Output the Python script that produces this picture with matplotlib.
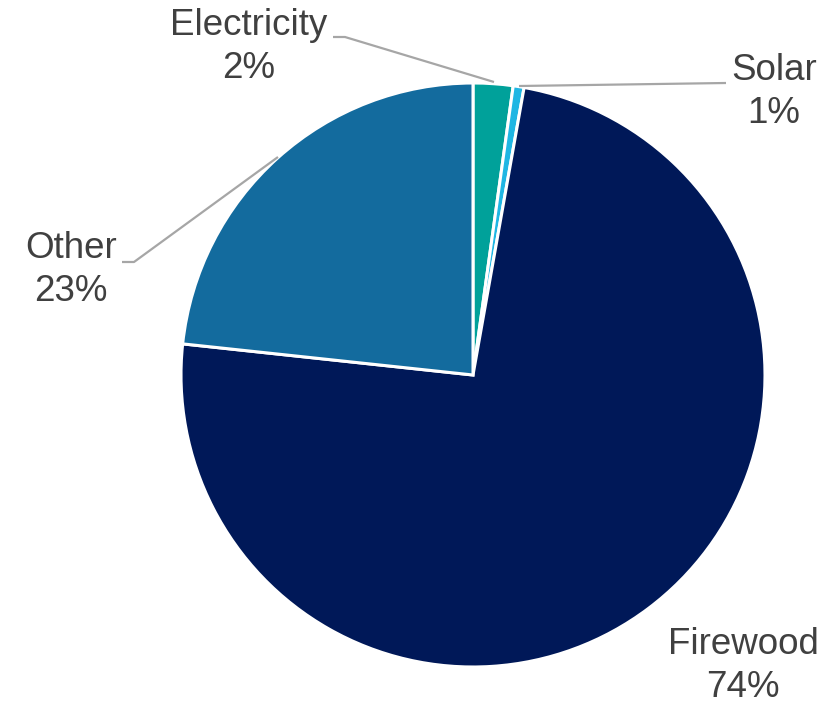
import matplotlib
matplotlib.use("Agg")
import matplotlib.pyplot as plt

categories = ["Electricity", "Solar", "Firewood", "Other"]
values = [2.2, 0.6, 73.9, 23.3]
pct_labels = ["2%", "1%", "74%", "23%"]
colors = ["#00A19A", "#1FB6E3", "#001858", "#136B9E"]

W, H = 838, 704
fig = plt.figure(figsize=(W / 100, H / 100), dpi=100)
ax = fig.add_axes([0, 0, 1, 1])

cx, cy, r = 473, H - 375, 292
ax.pie(values, colors=colors, startangle=90, counterclock=False,
       center=(cx, cy), radius=r,
       wedgeprops=dict(edgecolor="white", linewidth=2.2))
ax.set_xlim(0, W)
ax.set_ylim(0, H)
ax.set_aspect("equal")
ax.axis("off")

txt = dict(fontfamily="Liberation Sans", fontsize=26.5, color="#404040",
           ha="center", va="center", linespacing=1.3)
lab_pos = {
    "Electricity": (249, 47),
    "Solar": (774, 92),
    "Firewood": (743, 666),
    "Other": (71, 270),
}
for cat, p in zip(categories, pct_labels):
    x, y = lab_pos[cat]
    ax.text(x, H - y, f"{cat}\n{p}", **txt)

lc = "#A6A6A6"
lw = 1.6
# Electricity leader
ax.plot([333, 345, 494], [H - 37, H - 37, H - 82], color=lc, lw=lw, solid_capstyle="butt")
# Solar leader
ax.plot([519, 726], [H - 86, H - 83], color=lc, lw=lw, solid_capstyle="butt")
# Other leader
ax.plot([122, 134, 278], [H - 262, H - 262, H - 157], color=lc, lw=lw, solid_capstyle="butt")

fig.savefig("out.png", dpi=100, facecolor="white")
